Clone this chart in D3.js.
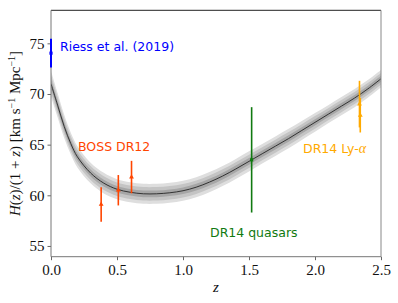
<!DOCTYPE html>
<html>
<head>
<meta charset="utf-8">
<script src="https://cdn.jsdelivr.net/npm/d3@7"></script>
<style>
  body { margin: 0; background: #fff; }
  svg { display: block; }
</style>
</head>
<body>
<div id="plot"></div>
<script>
// Reconstructed H(z)/(1+z) curve
const zGrid = [0.0, 0.05, 0.1, 0.15, 0.2, 0.3, 0.4, 0.5, 0.6, 0.7, 0.8, 0.9, 1.0, 1.1, 1.2,
               1.3, 1.4, 1.5, 1.6, 1.7, 1.8, 1.9, 2.0, 2.1, 2.2, 2.3, 2.4, 2.5];
const hMean = [71.0, 68.9, 66.8, 65.1, 63.8, 62.2, 61.2, 60.6, 60.3, 60.15, 60.15, 60.25, 60.45, 60.8, 61.3,
               61.9, 62.6, 63.35, 64.1, 64.85, 65.6, 66.4, 67.2, 68.0, 68.8, 69.6, 70.5, 71.5];
const hSigma = [0.42, 0.4, 0.38, 0.36, 0.35, 0.34, 0.34, 0.33, 0.33, 0.33, 0.33, 0.33, 0.33, 0.33, 0.33,
                0.33, 0.33, 0.33, 0.32, 0.32, 0.32, 0.31, 0.31, 0.3, 0.3, 0.3, 0.29, 0.29];
const bandLevels = [3, 2, 1];
const bandColors = ["#dedede", "#c4c4c4", "#a6a6a6"];

// Measurements
const riess = [{z: 0.0, h: 74.03, err: 1.42}];
const boss = [
  {z: 0.38, h: 59.1, err: 1.7},
  {z: 0.51, h: 60.5, err: 1.5},
  {z: 0.61, h: 61.8, err: 1.6}
];
const quasars = [{z: 1.52, h: 63.5, err: 5.2}];
const lya = [
  {z: 2.337, h: 69.0, err: 2.3},
  {z: 2.343, h: 67.9, err: 1.7}
];

const xTicks = [0.0, 0.5, 1.0, 1.5, 2.0, 2.5];
const yTicks = [55, 60, 65, 70, 75];

const width = 398;
const height = 303;
const marginTop = 10.3;
const marginRight = 17;
const marginBottom = 46.3;
const marginLeft = 51;

const x = d3.scaleLinear()
    .domain([0, 2.5])
    .range([marginLeft, width - marginRight]);

const y = d3.scaleLinear()
    .domain([53.94, 78.26])
    .range([height - marginBottom, marginTop]);

const svg = d3.select("#plot")
    .append("svg")
    .attr("width", width)
    .attr("height", height)
    .attr("viewBox", [0, 0, width, height]);

svg.append("defs").append("clipPath")
    .attr("id", "clip")
  .append("rect")
    .attr("x", marginLeft)
    .attr("y", marginTop)
    .attr("width", width - marginLeft - marginRight)
    .attr("height", height - marginTop - marginBottom);

const curve = zGrid.map((z, i) => ({z, h: hMean[i], s: hSigma[i]}));

// Confidence bands
const bands = svg.append("g").attr("clip-path", "url(#clip)");
bandLevels.forEach((k, i) => {
  const area = d3.area()
      .x(d => x(d.z))
      .y0(d => y(d.h - k * d.s))
      .y1(d => y(d.h + k * d.s))
      .curve(d3.curveCatmullRom);
  bands.append("path")
      .datum(curve)
      .attr("fill", bandColors[i])
      .attr("d", area);
});

bands.append("path")
    .datum(curve)
    .attr("fill", "none")
    .attr("stroke", "#333")
    .attr("stroke-width", 1)
    .attr("d", d3.line().x(d => x(d.z)).y(d => y(d.h)).curve(d3.curveCatmullRom));

// Axes
const fontSerif = "'Liberation Serif', 'DejaVu Serif', serif";
const fontSans = "'DejaVu Sans', sans-serif";

const xAxis = svg.append("g")
    .attr("transform", `translate(0,${height - marginBottom})`)
    .call(d3.axisBottom(x).tickValues(xTicks).tickFormat(d3.format(".1f")).tickSize(3.5).tickPadding(4));
xAxis.select(".domain").remove();
xAxis.selectAll("line").attr("stroke", "#666");
xAxis.selectAll("text")
    .style("font-family", fontSerif)
    .style("font-size", "15px")
    .attr("fill", "#111");

const yAxis = svg.append("g")
    .attr("transform", `translate(${marginLeft},0)`)
    .call(d3.axisLeft(y).tickValues(yTicks).tickSize(3.5).tickPadding(3));
yAxis.select(".domain").remove();
yAxis.selectAll("line").attr("stroke", "#666");
yAxis.selectAll("text")
    .style("font-family", fontSerif)
    .style("font-size", "15px")
    .attr("fill", "#111");

// Frame
const x0 = marginLeft, x1 = width - marginRight;
const y0 = marginTop, y1 = height - marginBottom;
svg.append("line").attr("x1", x0).attr("x2", x1).attr("y1", y0).attr("y2", y0).attr("stroke", "#222");
svg.append("line").attr("x1", x0).attr("x2", x1).attr("y1", y1).attr("y2", y1).attr("stroke", "#777");
svg.append("line").attr("x1", x0).attr("x2", x0).attr("y1", y0).attr("y2", y1).attr("stroke", "#777");
svg.append("line").attr("x1", x1).attr("x2", x1).attr("y1", y0).attr("y2", y1).attr("stroke", "#888");

// Error bars
function errorBars(data, color, marker, width) {
  const g = svg.append("g");
  g.selectAll("line")
    .data(data)
    .join("line")
      .attr("x1", d => x(d.z))
      .attr("x2", d => x(d.z))
      .attr("y1", d => y(d.h - d.err))
      .attr("y2", d => y(d.h + d.err))
      .attr("stroke", color)
      .attr("stroke-width", width);
  g.selectAll("path")
    .data(data)
    .join("path")
      .attr("transform", d => `translate(${x(d.z)},${y(d.h)})`)
      .attr("d", d3.symbol().type(marker).size(10))
      .attr("fill", color);
}

errorBars(riess, "#0000ff", d3.symbolSquare, 2);
errorBars(boss, "#ff4500", d3.symbolTriangle, 1.6);
errorBars(quasars, "#117a11", d3.symbolSquare, 1.6);
errorBars(lya, "#ffaa00", d3.symbolTriangle, 1.6);

// Annotations
svg.append("text")
    .attr("x", 60).attr("y", 51)
    .attr("fill", "#0000ff")
    .style("font-family", fontSans).style("font-size", "12.5px")
    .text("Riess et al. (2019)");

svg.append("text")
    .attr("x", 78).attr("y", 151)
    .attr("fill", "#ff4500")
    .style("font-family", fontSans).style("font-size", "12.5px")
    .text("BOSS DR12");

svg.append("text")
    .attr("x", 210).attr("y", 237)
    .attr("fill", "#117a11")
    .style("font-family", fontSans).style("font-size", "12.5px")
    .text("DR14 quasars");

const lyaLabel = svg.append("text")
    .attr("x", 303).attr("y", 153)
    .attr("fill", "#ffaa00")
    .style("font-family", fontSans).style("font-size", "12.5px");
lyaLabel.append("tspan").text("DR14 Ly-");
lyaLabel.append("tspan").style("font-family", fontSerif).style("font-style", "italic").style("font-size", "14px").text("α");

// Axis labels
svg.append("text")
    .attr("x", x(1.25)).attr("y", 292)
    .attr("text-anchor", "middle")
    .style("font-family", fontSerif).style("font-style", "italic").style("font-size", "15px")
    .attr("fill", "#111")
    .text("z");

const yLabel = svg.append("text")
    .attr("transform", `translate(20,${(y0 + y1) / 2}) rotate(-90)`)
    .attr("text-anchor", "middle")
    .style("font-family", fontSerif).style("font-size", "15px")
    .attr("fill", "#111");
yLabel.append("tspan").style("font-style", "italic").text("H");
yLabel.append("tspan").text("(");
yLabel.append("tspan").style("font-style", "italic").text("z");
yLabel.append("tspan").text(")/(1 + ");
yLabel.append("tspan").style("font-style", "italic").text("z");
yLabel.append("tspan").text(") [km s");
yLabel.append("tspan").attr("dy", -5).style("font-size", "10px").text("−1");
yLabel.append("tspan").attr("dy", 5).text(" Mpc");
yLabel.append("tspan").attr("dy", -5).style("font-size", "10px").text("−1");
yLabel.append("tspan").attr("dy", 5).text("]");
</script>
</body>
</html>
